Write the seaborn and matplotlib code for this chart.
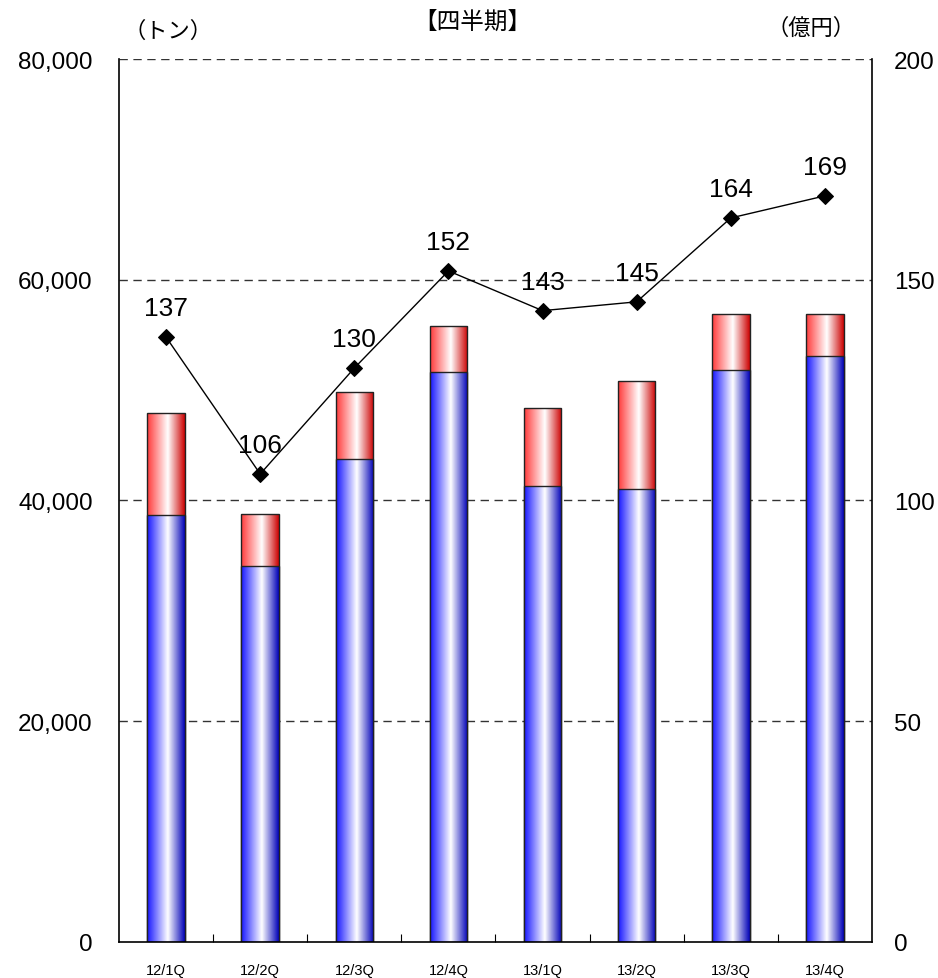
import numpy as np
import pandas as pd
import matplotlib
matplotlib.use("Agg")
import matplotlib.pyplot as plt
import seaborn as sns
from matplotlib.colors import LinearSegmentedColormap
from matplotlib import font_manager

# quarterly data
quarters = ["12/1Q", "12/2Q", "12/3Q", "12/4Q", "13/1Q", "13/2Q", "13/3Q", "13/4Q"]
volume_main = [38700, 34100, 43800, 51600, 41300, 41000, 51800, 53100]   # tons (blue)
volume_other = [9200, 4700, 6000, 4200, 7100, 9800, 5100, 3800]         # tons (red)
sales = [137, 106, 130, 152, 143, 145, 164, 169]                        # 100 million yen

left_ticks = [0, 20000, 40000, 60000, 80000]
right_ticks = [0, 50, 100, 150, 200]

sns.set_theme(style="white")
names = {f.name for f in font_manager.fontManager.ttflist}
num_font = [f for f in ["Liberation Sans Narrow", "Liberation Sans", "DejaVu Sans"] if f in names]
jp_font = ["Noto Sans CJK JP", "DejaVu Sans"]
plt.rcParams["font.family"] = num_font
plt.rcParams["text.color"] = "black"
plt.rcParams["xtick.color"] = "black"
plt.rcParams["ytick.color"] = "black"

df = pd.DataFrame({
    "quarter": quarters,
    "main": volume_main,
    "total": np.array(volume_main) + np.array(volume_other),
})

fig = plt.figure(figsize=(9.38, 9.79), dpi=100)
ax = fig.add_axes([0.1269, 0.0368, 0.9296 - 0.1269, 0.9387 - 0.0368])

sns.barplot(data=df, x="quarter", y="total", color="red", width=0.4, ax=ax,
            edgecolor="#222222", linewidth=1.0, saturation=1)
sns.barplot(data=df, x="quarter", y="main", color="blue", width=0.4, ax=ax,
            edgecolor="#222222", linewidth=1.0, saturation=1)

blue_cmap = LinearSegmentedColormap.from_list(
    "bluegrad", [(0.0, (0.08, 0.08, 1.0)), (0.55, (1, 1, 1)), (1.0, (0.0, 0.0, 0.72))])
red_cmap = LinearSegmentedColormap.from_list(
    "redgrad", [(0.0, (1.0, 0.22, 0.22)), (0.55, (1, 1, 1)), (1.0, (0.80, 0.0, 0.0))])

grad = np.linspace(0, 1, 256).reshape(1, -1)
n = len(quarters)
for i, patch in enumerate(ax.patches):
    cmap = red_cmap if i < n else blue_cmap
    x0, y0 = patch.get_x(), patch.get_y()
    w, h = patch.get_width(), patch.get_height()
    lift = 0.5 if i >= n else 0
    im = ax.imshow(grad, cmap=cmap, aspect="auto", extent=(x0, x0 + w, y0, y0 + h),
                   zorder=patch.get_zorder() - 0.01 + lift, interpolation="bilinear")
    im.set_clip_path(patch)
    patch.set_facecolor("none")
    patch.set_zorder(patch.get_zorder() + lift)

ax.set_xlim(-0.5, n - 0.5)
ax.set_ylim(0, 80000)
ax.set_xlabel("")
ax.set_ylabel("")
ax.set_yticks(left_ticks)
ax.set_yticklabels([f"{v:,}" for v in left_ticks], fontsize=17.5)
ax.tick_params(axis="y", length=0, pad=19)
ax.set_xticks(range(n))
ax.set_xticklabels(quarters, fontsize=10.5)
ax.set_xticks(np.arange(0.5, n - 0.5, 1), minor=True)
ax.tick_params(axis="x", which="major", length=0, pad=15)
ax.tick_params(axis="x", which="minor", direction="in", length=6, width=0.8, color="black", bottom=True)

for y in left_ticks[1:]:
    ax.axhline(y, color="#333333", linewidth=1.0, linestyle=(0, (6, 4)), zorder=0.5)

for side in ["left", "right", "bottom"]:
    ax.spines[side].set_color("black")
    ax.spines[side].set_linewidth(1.2)
ax.spines["top"].set_visible(False)

ax2 = ax.twinx()
sns.lineplot(x=np.arange(n), y=sales, ax=ax2, color="black", linewidth=1.0,
             marker="D", markersize=8, markeredgecolor="black", markerfacecolor="black")
ax2.set_ylim(0, 200)
ax2.set_yticks(right_ticks)
ax2.set_yticklabels([str(v) for v in right_ticks], fontsize=17.5)
ax2.tick_params(axis="y", length=0, pad=16)
ax2.set_ylabel("")
for side in ["left", "right", "bottom", "top"]:
    ax2.spines[side].set_visible(False)

for i, v in enumerate(sales):
    ax2.annotate(str(v), (i, v), xytext=(0, 12), textcoords="offset points",
                 ha="center", va="bottom", fontsize=19, color="black")

fig.text(168 / 938, 1 - 31 / 979, "（トン）", family=jp_font, fontsize=16,
         ha="center", va="center", color="black")
fig.text(472 / 938, 1 - 22 / 979, "【四半期】", family=jp_font, fontsize=17,
         ha="center", va="center", color="black")
fig.text(811 / 938, 1 - 28 / 979, "（億円）", family=jp_font, fontsize=16,
         ha="center", va="center", color="black")

fig.savefig("out.png", dpi=100)
